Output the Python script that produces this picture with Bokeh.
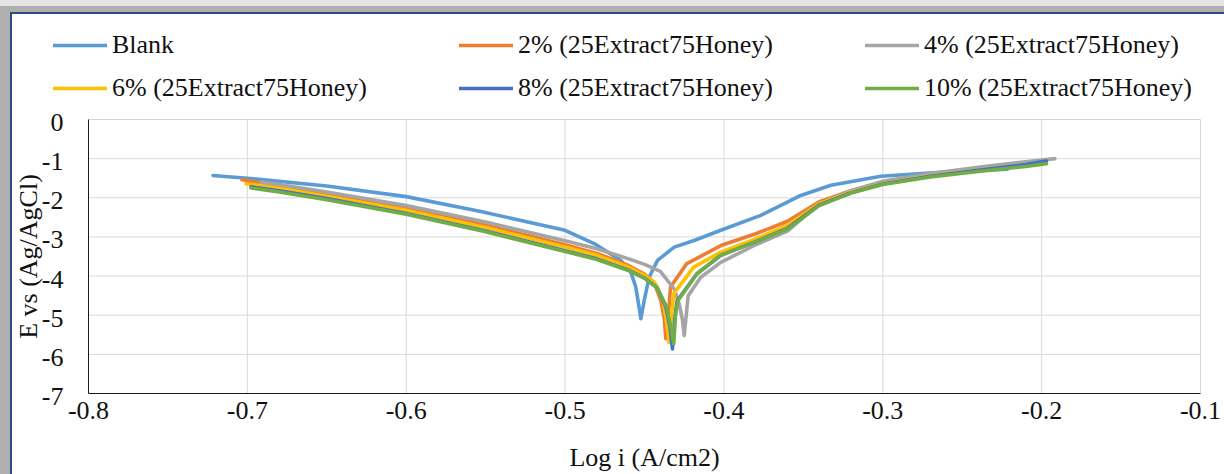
import math
from bokeh.plotting import figure
from bokeh.models import Legend, LegendItem, Range1d
from bokeh.core.properties import value
from bokeh.embed import file_html
from bokeh.resources import INLINE

# ---------------- data ----------------
x_ticks = [-0.8, -0.7, -0.6, -0.5, -0.4, -0.3, -0.2, -0.1]
x_tick_labels = ["-0.8", "-0.7", "-0.6", "-0.5", "-0.4", "-0.3", "-0.2", "-0.1"]
y_ticks = [0, -1, -2, -3, -4, -5, -6, -7]
y_tick_labels = ["0", "-1", "-2", "-3", "-4", "-5", "-6", "-7"]

series_names = ["Blank", "2% (25Extract75Honey)", "4% (25Extract75Honey)",
                "6% (25Extract75Honey)", "8% (25Extract75Honey)", "10% (25Extract75Honey)"]
series_colors = ["#5B9BD5", "#ED7D31", "#A5A5A5", "#FFC000", "#4472C4", "#70AD47"]

blank_x = [-0.7216, -0.70, -0.65, -0.60, -0.553, -0.50, -0.4817, -0.4649, -0.4586, -0.4555,
           -0.4534, -0.4523, -0.4502, -0.4471, -0.4418, -0.4313, -0.4188, -0.402, -0.3768,
           -0.3516, -0.3327, -0.3012, -0.2635, -0.2215]
blank_y = [-1.43, -1.50, -1.70, -1.97, -2.35, -2.83, -3.17, -3.60, -3.90, -4.28,
           -4.80, -5.09, -4.63, -4.03, -3.60, -3.26, -3.09, -2.83, -2.45,
           -1.94, -1.68, -1.45, -1.35, -1.27]

p2_x = [-0.7034, -0.68, -0.65, -0.60, -0.55, -0.50, -0.48, -0.46, -0.45, -0.444, -0.4397,
        -0.4375, -0.4366, -0.4346, -0.4336, -0.4236, -0.402, -0.38, -0.36, -0.34, -0.32,
        -0.30, -0.27, -0.24, -0.21, -0.198]
p2_y = [-1.54, -1.70, -1.90, -2.27, -2.70, -3.20, -3.42, -3.73, -3.95, -4.16, -4.63,
        -5.10, -5.60, -4.80, -4.28, -3.69, -3.22, -2.92, -2.60, -2.10, -1.82,
        -1.62, -1.42, -1.27, -1.15, -1.10]

p4_x = [-0.6914, -0.68, -0.65, -0.60, -0.55, -0.50, -0.48, -0.46, -0.45, -0.44, -0.4313,
        -0.4282, -0.4262, -0.425, -0.4235, -0.4225, -0.4146, -0.402, -0.38, -0.36, -0.34,
        -0.32, -0.30, -0.27, -0.24, -0.21, -0.1917]
p4_y = [-1.60, -1.66, -1.85, -2.20, -2.62, -3.10, -3.30, -3.56, -3.70, -3.88, -4.33,
        -4.71, -5.10, -5.52, -4.90, -4.50, -4.03, -3.65, -3.20, -2.85, -2.15,
        -1.82, -1.58, -1.38, -1.22, -1.08, -1.00]

p6_x = [-0.7009, -0.68, -0.65, -0.60, -0.55, -0.50, -0.48, -0.46, -0.45, -0.443, -0.438,
        -0.436, -0.4345, -0.433, -0.4316, -0.419, -0.402, -0.38, -0.36, -0.34, -0.32,
        -0.30, -0.27, -0.24, -0.21, -0.197]
p6_y = [-1.64, -1.76, -1.96, -2.32, -2.76, -3.26, -3.47, -3.77, -3.98, -4.20, -4.70,
        -5.20, -5.69, -5.00, -4.45, -3.77, -3.39, -3.05, -2.70, -2.15, -1.85,
        -1.64, -1.44, -1.29, -1.16, -1.10]

p8_x = [-0.6977, -0.68, -0.65, -0.60, -0.55, -0.50, -0.48, -0.46, -0.45, -0.442, -0.4365,
        -0.434, -0.4324, -0.431, -0.4295, -0.417, -0.402, -0.38, -0.36, -0.34, -0.32,
        -0.30, -0.27, -0.24, -0.21, -0.197]
p8_y = [-1.72, -1.82, -2.02, -2.40, -2.85, -3.35, -3.56, -3.85, -4.05, -4.30, -4.80,
        -5.30, -5.86, -5.10, -4.63, -3.94, -3.47, -3.12, -2.78, -2.18, -1.87,
        -1.65, -1.45, -1.30, -1.15, -1.06]

p10_x = [-0.6977, -0.68, -0.65, -0.60, -0.55, -0.50, -0.48, -0.46, -0.45, -0.442, -0.436,
         -0.4335, -0.4316, -0.4305, -0.429, -0.417, -0.402, -0.38, -0.36, -0.34, -0.32,
         -0.30, -0.27, -0.24, -0.21, -0.197]
p10_y = [-1.75, -1.85, -2.05, -2.42, -2.87, -3.37, -3.58, -3.86, -4.05, -4.30, -4.80,
         -5.30, -5.73, -5.00, -4.63, -3.94, -3.47, -3.12, -2.80, -2.20, -1.88,
         -1.66, -1.47, -1.33, -1.20, -1.13]

series_x = [blank_x, p2_x, p4_x, p6_x, p8_x, p10_x]
series_y = [blank_y, p2_y, p4_y, p6_y, p8_y, p10_y]

x_title = "Log i (A/cm2)"
y_title = "E vs (Ag/AgCl)"

# ---------------- layout (pixels) ----------------
W, H = 1224, 474
PLOT_L, PLOT_R, PLOT_T, PLOT_B = 88, 1200, 119, 393   # plot area inside the page
FONT = "Liberation Serif"
FSIZE = "26px"
TEXT_COLOR = "#111111"

# the frame covers the whole page, so that the legend and the axis texts
# (drawn inside it) are not clipped; the plot area is mapped onto its box
x0, x1 = x_ticks[0], x_ticks[-1]
y0, y1 = y_ticks[-1], y_ticks[0]
xs_per_px = (x1 - x0) / (PLOT_R - PLOT_L)
ys_per_px = (y1 - y0) / (PLOT_B - PLOT_T)
x_range = Range1d(x0 - PLOT_L * xs_per_px, x1 + (W - PLOT_R) * xs_per_px)
y_range = Range1d(y0 - (H - PLOT_B) * ys_per_px, y1 + PLOT_T * ys_per_px)

p = figure(width=W, height=H, output_backend="svg", toolbar_location=None,
           x_range=x_range, y_range=y_range,
           min_border_left=0, min_border_right=0, min_border_top=0,
           min_border_bottom=0)
p.outline_line_color = None
p.background_fill_alpha = 0
p.border_fill_alpha = 0
p.styles = {
    "background-color": "white",
    "box-shadow": ("inset 0px 6px 0px 0px #e4e4e4, "
                   "inset 10px 12px 0px 0px #b0b0b0, "
                   "inset 12px 14px 0px 0px #2f4b85"),
}
p.xgrid.visible = False
p.ygrid.visible = False
p.xaxis.visible = False
p.yaxis.visible = False

# gridlines (from the tick arrays)
p.segment(x0=x_ticks, y0=[y0] * len(x_ticks), x1=x_ticks, y1=[y1] * len(x_ticks),
          line_color="#d9d9d9", line_width=1, level="underlay")
p.segment(x0=[x0] * len(y_ticks), y0=y_ticks, x1=[x1] * len(y_ticks), y1=y_ticks,
          line_color="#d9d9d9", line_width=1, level="underlay")
# axis lines
p.segment(x0=[x0, x0], y0=[y0, y0], x1=[x0, x1], y1=[y1, y0],
          line_color="#1a1a1a", line_width=1, level="underlay")

renderers = []
for xs, ys, c in zip(series_x, series_y, series_colors):
    r = p.line(xs, ys, line_color=c, line_width=3.6, line_join="round", line_cap="round")
    renderers.append(r)

# tick labels and axis titles
p.text(x=[x0] * len(y_ticks), y=y_ticks, text=y_tick_labels,
       x_offset=-25, y_offset=3, text_align="right", text_baseline="middle",
       text_font=value(FONT), text_font_size=value(FSIZE), text_color=TEXT_COLOR)
p.text(x=x_ticks, y=[y0] * len(x_ticks), text=x_tick_labels,
       y_offset=17, text_align="center", text_baseline="middle",
       text_font=value(FONT), text_font_size=value(FSIZE), text_color=TEXT_COLOR)
p.text(x=[x0], y=[(y0 + y1) / 2], text=[y_title], angle=math.pi / 2,
       x_offset=-60, text_align="center", text_baseline="middle",
       text_font=value(FONT), text_font_size=value(FSIZE), text_color=TEXT_COLOR)
p.text(x=[(x0 + x1) / 2], y=[y0], text=[x_title],
       y_offset=64, text_align="center", text_baseline="middle",
       text_font=value(FONT), text_font_size=value(FSIZE), text_color=TEXT_COLOR)

items = [LegendItem(label=n, renderers=[r]) for n, r in zip(series_names, renderers)]
legend = Legend(items=items, orientation="horizontal", nrows=2,
                location=(53, 371), glyph_width=54, glyph_height=20,
                label_standoff=5, label_width=334, spacing=13, padding=0, margin=0,
                border_line_color=None, background_fill_alpha=0,
                label_text_font=FONT, label_text_font_size=FSIZE,
                label_text_color=TEXT_COLOR)
p.add_layout(legend)

open("out.html", "w").write(file_html(p, INLINE))
